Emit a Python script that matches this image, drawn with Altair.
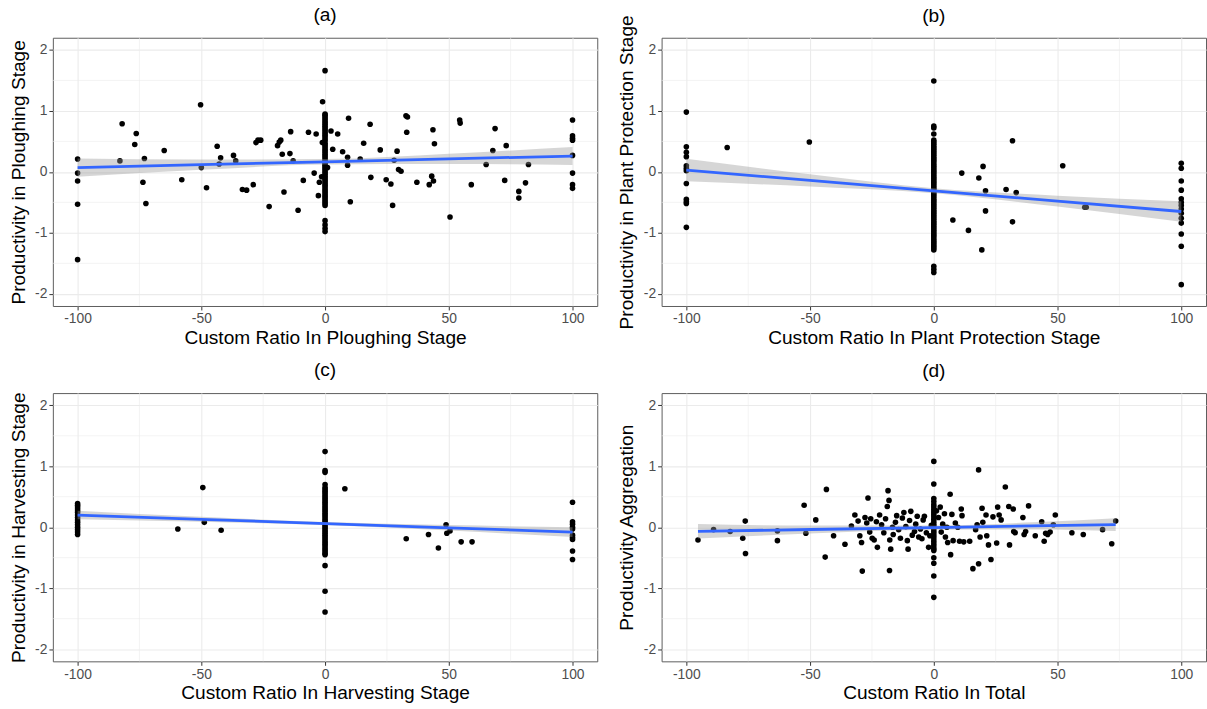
import altair as alt
import pandas as pd

FONT = "Liberation Sans"

# ---------------- (a) Ploughing stage ----------------
a_x = [-82.9, -82.0, -76.9, -76.3, -73.0, -73.6, -72.4, -65.0, -57.9, -50.3, -50.0, -47.9,
       -43.6, -42.8, -42.2, -37.0, -36.1, -33.4, -31.7, -29.0, -27.9, -27.1, -26.0, -22.6,
       -19.2, -18.5, -17.9, -17.3, -16.6, -14.2, -13.9, -12.9, -10.9, -8.8, -6.7, -4.4,
       -3.6, -2.3, -2.7, -1.4, -1.0, -1.1,
       1.0, 2.4, 3.1, 5.1, 7.1, 9.1, 9.1, 9.5, 10.2, 14.2, 15.6, 18.2, 18.5, 22.3, 24.7,
       26.6, 27.3, 27.9, 29.1, 29.7, 30.7, 32.7, 33.3, 33.0, 37.1, 42.1, 43.1, 43.8, 43.6,
       44.2, 50.5, 54.4, 54.6, 59.1, 65.1, 67.8, 68.7, 72.6, 73.2, 78.3, 78.3, 81.0, 82.2]
a_y = [0.18, 0.79, 0.45, 0.63, 0.22, -0.17, -0.52, 0.35, -0.13, 1.10, 0.07, -0.26,
       0.42, 0.13, 0.23, 0.27, 0.18, -0.29, -0.30, -0.21, 0.48, 0.52, 0.52, -0.57,
       0.43, 0.49, 0.52, 0.29, -0.33, 0.30, 0.66, 0.18, -0.63, -0.14, 0.65, -0.02,
       0.62, -0.17, -0.39, -0.08, 1.15, 0.48,
       0.07, 0.67, 0.37, 0.62, 0.33, 0.24, 0.11, 0.88, -0.49, 0.21, 0.47, 0.78, -0.09, 0.36, -0.13,
       -0.20, -0.55, 0.19, 0.34, 0.04, 0.01, 0.92, 0.90, 0.65, -0.17, -0.21, -0.07, -0.15, 0.69,
       0.46, -0.74, 0.85, 0.80, -0.21, 0.12, 0.35, 0.71, -0.14, 0.43, -0.32, -0.43, -0.18, 0.12]
a_left = [0.21, -0.02, -0.15, -0.53, -1.44]
a_zero = [1.66, 0.95, 0.93, 0.90, 0.87, 0.84, 0.81, 0.78, 0.75, 0.72, 0.69, 0.66, 0.63, 0.60,
          0.57, 0.54, 0.51, 0.47, 0.44, 0.41, 0.38, 0.35, 0.32, 0.29, 0.26, 0.23, 0.20, 0.17,
          0.14, 0.11, 0.08, 0.05, 0.02, -0.01, -0.04, -0.07, -0.10, -0.13, -0.16, -0.19, -0.22,
          -0.25, -0.28, -0.31, -0.34, -0.37, -0.40, -0.43, -0.46, -0.49, -0.52, -0.55,
          -0.80, -0.87, -0.93, -0.98]
a_right = [0.85, 0.59, 0.55, 0.52, 0.27, -0.02, -0.21, -0.27]
a_fit_x = [-100, -50, 0, 50, 100]
a_fit_y = [0.07, 0.118, 0.165, 0.213, 0.26]
a_fit_lo = [-0.08, 0.033, 0.12, 0.128, 0.113]
a_fit_hi = [0.22, 0.203, 0.21, 0.298, 0.407]

# ---------------- (b) Plant protection stage ----------------
b_x = [-83.5, -50.3, 7.7, 11.3, 14.0, 18.2, 19.4, 19.9, 20.9, 20.9, 29.2, 31.8, 31.8, 33.3,
       52.1, 61.0, 61.6]
b_y = [0.40, 0.49, -0.79, -0.02, -0.96, -0.10, -1.28, 0.09, -0.31, -0.64, -0.29, 0.51, -0.82,
       -0.34, 0.10, -0.58, -0.58]
b_left = [0.98, 0.41, 0.32, 0.25, 0.10, 0.06, 0.02, -0.19, -0.45, -0.49, -0.52, -0.91]
b_zero = [1.49, 0.75, 0.72, 0.62, 0.52, 0.49, 0.46, 0.43, 0.40, 0.37, 0.34, 0.31, 0.28, 0.25,
          0.22, 0.19, 0.16, 0.13, 0.10, 0.07, 0.04, 0.01, -0.02, -0.05, -0.08, -0.11, -0.14,
          -0.17, -0.20, -0.23, -0.26, -0.29, -0.32, -0.35, -0.38, -0.41, -0.44, -0.47, -0.50,
          -0.53, -0.56, -0.59, -0.62, -0.65, -0.68, -0.71, -0.74, -0.77, -0.80, -0.83, -0.86,
          -0.89, -0.92, -0.95, -0.98, -1.01, -1.04, -1.07, -1.10, -1.13, -1.16, -1.19, -1.22,
          -1.25, -1.28, -1.55, -1.60, -1.65]
b_right = [0.14, 0.06, -0.15, -0.30, -0.44, -0.50, -0.55, -0.61, -0.68, -0.76, -0.84, -1.02,
           -1.22, -1.85]
b_fit_x = [-100, -50, 0, 50, 100]
b_fit_y = [0.03, -0.14, -0.31, -0.48, -0.65]
b_fit_lo = [-0.155, -0.24, -0.35, -0.57, -0.82]
b_fit_hi = [0.215, -0.04, -0.27, -0.39, -0.48]

# ---------------- (c) Harvesting stage ----------------
c_x = [-59.5, -49.4, -48.8, -42.0, 8.0, 32.8, 41.8, 45.8, 48.9, 49.2, 50.5, 55.0, 59.4]
c_y = [-0.03, 0.65, 0.08, -0.05, 0.63, -0.19, -0.12, -0.34, 0.04, -0.10, -0.06, -0.24, -0.24]
c_left = [0.39, 0.36, 0.33, 0.30, 0.27, 0.24, 0.20, 0.16, 0.12, 0.08, 0.04, 0.00, -0.04,
          -0.08, -0.12]
c_zero = [1.24, 0.93, 0.90, 0.70, 0.65, 0.62, 0.59, 0.56, 0.53, 0.50, 0.47, 0.44, 0.41, 0.38,
          0.35, 0.32, 0.29, 0.26, 0.23, 0.20, 0.17, 0.14, 0.11, 0.08, 0.05, 0.02, -0.01, -0.04,
          -0.07, -0.10, -0.13, -0.16, -0.19, -0.22, -0.25, -0.28, -0.31, -0.34, -0.37, -0.40,
          -0.43, -0.45, -0.63, -1.05, -1.39]
c_right = [0.41, 0.09, 0.05, 0.00, -0.03, -0.13, -0.17, -0.20, -0.39, -0.53]
c_fit_x = [-100, -50, 0, 50, 100]
c_fit_y = [0.20, 0.13, 0.06, -0.01, -0.08]
c_fit_lo = [0.13, 0.09, 0.035, -0.055, -0.16]
c_fit_hi = [0.27, 0.17, 0.085, 0.035, 0.00]

# ---------------- (d) Total ----------------
d_x = [-95.3, -89.0, -82.3, -77.2, -76.2, -76.1, -63.2, -63.2, -52.4, -51.7, -47.7, -43.9,
       -43.4, -40.5, -35.9, -33.3, -31.9, -30.6, -29.9, -29.2, -28.9, -27.8, -27.1, -26.6,
       -25.9, -25.5, -24.9, -24.1, -23.2, -22.8, -21.9, -21.1, -20.2, -19.5, -18.8, -18.5,
       -18.1, -17.9, -17.8, -17.4, -16.7, -16.4, -15.5, -15.0, -14.2, -13.5, -12.7, -12.1,
       -11.3, -10.7, -10.4, -9.8, -9.3, -8.7, -7.8, -7.3, -6.7, -6.1, -5.4, -4.8, -4.3, -3.8,
       -3.0, -2.1, -1.6, -1.0,
       1.1, 1.9, 2.6, 3.0, 3.6, 4.3, 4.7, 5.3, 5.6, 6.6, 6.8, 7.3, 7.8, 8.7, 9.7, 10.4, 11.1,
       11.4, 12.1, 14.5, 15.8, 16.9, 17.5, 18.1, 18.1, 18.7, 19.5, 19.8, 21.1, 21.4, 22.1,
       23.1, 23.9, 25.4, 25.8, 26.4, 27.2, 28.9, 30.3, 30.6, 32.1, 32.3, 32.9, 36.0, 36.5,
       37.1, 38.3, 41.0, 43.6, 44.6, 45.2, 46.0, 47.0, 48.3, 49.1, 55.8, 60.4, 68.2, 71.9, 73.5]
d_y = [-0.21, -0.04, -0.07, -0.18, 0.10, -0.43, -0.06, -0.22, 0.36, -0.10, 0.12, -0.49,
       0.62, -0.14, -0.28, 0.02, 0.20, 0.10, -0.14, -0.25, -0.72, 0.16, 0.07, 0.48,
       -0.08, 0.14, -0.18, -0.21, 0.09, -0.33, 0.20, 0.04, -0.09, 0.14, 0.34, 0.60,
       0.44, -0.71, -0.21, -0.36, 0.00, -0.12, 0.08, 0.19, -0.04, -0.18, 0.15, 0.24,
       0.01, -0.22, -0.36, 0.11, 0.26, -0.13, -0.07, 0.05, 0.18, -0.16, -0.03, -0.19, 0.12, 0.18,
       -0.09, -0.33, -0.14, 0.03,
       0.27, 0.16, 0.33, -0.08, 0.05, 0.22, -0.16, 0.00, -0.25, 0.54, -0.45, 0.21, -0.22, 0.07,
       0.00, -0.23, 0.30, 0.19, -0.24, -0.23, -0.68, -0.04, 0.04, 0.94, -0.60, -0.16, 0.31,
       0.08, 0.20, -0.14, -0.29, -0.53, 0.17, -0.26, 0.33, 0.20, 0.12, 0.66, 0.34, -0.29,
       0.30, -0.07, -0.09, 0.16, -0.12, -0.07, 0.35, -0.14, 0.09, -0.23, -0.10, -0.12, -0.08,
       0.04, 0.20, -0.09, -0.12, -0.04, -0.27, 0.10]
d_zero = [1.08, 0.71, 0.47, 0.42, 0.37, 0.33, 0.29, 0.25, 0.21, 0.17, 0.13, 0.09, 0.05, 0.01,
          -0.03, -0.07, -0.11, -0.15, -0.19, -0.23, -0.27, -0.31, -0.35, -0.38, -0.50, -0.59,
          -0.80, -1.15]
d_fit_x = [-95.3, -50, 0, 40, 73.5]
d_fit_y = [-0.067, -0.0375, -0.005, 0.021, 0.043]
d_fit_lo = [-0.187, -0.1025, -0.04, -0.039, -0.062]
d_fit_hi = [0.053, 0.0275, 0.03, 0.081, 0.148]

X_TICKS = [-100, -50, 0, 50, 100]
Y_TICKS = [-2, -1, 0, 1, 2]
X_MINOR = [-75, -25, 25, 75]
Y_MINOR = [-1.5, -0.5, 0.5, 1.5]

TITLE_SIZE = 19.3


def points_frame(xs, ys, left=(), zero=(), right=()):
    px = list(xs) + [-100] * len(left) + [0] * len(zero) + [100] * len(right)
    py = list(ys) + list(left) + list(zero) + list(right)
    return pd.DataFrame({"x": px, "y": py})


def panel(pts, fx, fy, flo, fhi, title, xtitle, ytitle, title_offset=12):
    xs = alt.Scale(domain=[-110, 110], nice=False, zero=False)
    ys = alt.Scale(domain=[-2.2, 2.2], nice=False, zero=False)
    # plain hyphen for negative tick labels
    xa = alt.Axis(values=X_TICKS, title=xtitle, labelExpr="datum.value + ''")
    ya = alt.Axis(values=Y_TICKS, title=ytitle, labelExpr="datum.value + ''")
    X = alt.X("x:Q", scale=xs, axis=xa)
    Y = alt.Y("y:Q", scale=ys, axis=ya)

    minor_v = alt.Chart(pd.DataFrame({"x": X_MINOR})).mark_rule(
        color="#EBEBEB", strokeWidth=0.6).encode(x=X)
    minor_h = alt.Chart(pd.DataFrame({"y": Y_MINOR})).mark_rule(
        color="#EBEBEB", strokeWidth=0.6).encode(y=Y)
    dots = alt.Chart(pts).mark_circle(size=32, color="black", opacity=1).encode(x=X, y=Y)
    fit = pd.DataFrame({"x": fx, "y": fy, "lo": flo, "hi": fhi})
    band = alt.Chart(fit).mark_area(color="#999999", opacity=0.4, interpolate="monotone").encode(
        x=X, y=alt.Y("lo:Q", scale=ys, axis=ya), y2="hi:Q")
    line = alt.Chart(fit).mark_line(color="#3366FF", strokeWidth=2.8).encode(x=X, y=Y)
    return alt.layer(minor_v, minor_h, dots, band, line).properties(
        width=550, height=271,
        title=alt.TitleParams(title, fontSize=TITLE_SIZE, font=FONT, fontWeight="normal",
                              color="black", anchor="middle", offset=title_offset,
                              frame="group"))


pa = panel(points_frame(a_x, a_y, a_left, a_zero, a_right), a_fit_x, a_fit_y, a_fit_lo, a_fit_hi,
           "(a)", "Custom Ratio In Ploughing Stage", "Productivity in Ploughing Stage")
# the long y title of (b) reaches above the panel, so its heading needs less offset
pb = panel(points_frame(b_x, b_y, b_left, b_zero, b_right), b_fit_x, b_fit_y, b_fit_lo, b_fit_hi,
           "(b)", "Custom Ratio In Plant Protection Stage", "Productivity in Plant Protection Stage",
           title_offset=-11.5)
pc = panel(points_frame(c_x, c_y, c_left, c_zero, c_right), c_fit_x, c_fit_y, c_fit_lo, c_fit_hi,
           "(c)", "Custom Ratio In Harvesting Stage", "Productivity in Harvesting Stage")
pd_ = panel(points_frame(d_x, d_y, (), d_zero, ()), d_fit_x, d_fit_y, d_fit_lo, d_fit_hi,
            "(d)", "Custom Ratio In Total", "Productivity Aggregation")

chart = alt.concat(pa, pb, pc, pd_, columns=2, bounds="flush",
                   spacing={"row": 88, "column": 65}).properties(
    padding={"left": 8.4, "top": 1.5, "right": 0, "bottom": 0}
).configure_view(
    stroke="#5C5C5C", strokeWidth=1
).configure_axis(
    grid=True, gridColor="#EBEBEB", gridWidth=1.1,
    domain=False, ticks=True, tickColor="#333333", tickSize=4, tickWidth=1,
    labelFont=FONT, labelFontSize=14, labelColor="#4D4D4D", labelPadding=2,
    titleFont=FONT, titleFontSize=TITLE_SIZE, titleColor="black", titleFontWeight="normal"
).configure_axisX(labelFlush=False, titlePadding=3).configure_axisY(labelFlush=False, titlePadding=6.7)

chart.save("out.html", embed_options={"renderer": "svg", "actions": False})
